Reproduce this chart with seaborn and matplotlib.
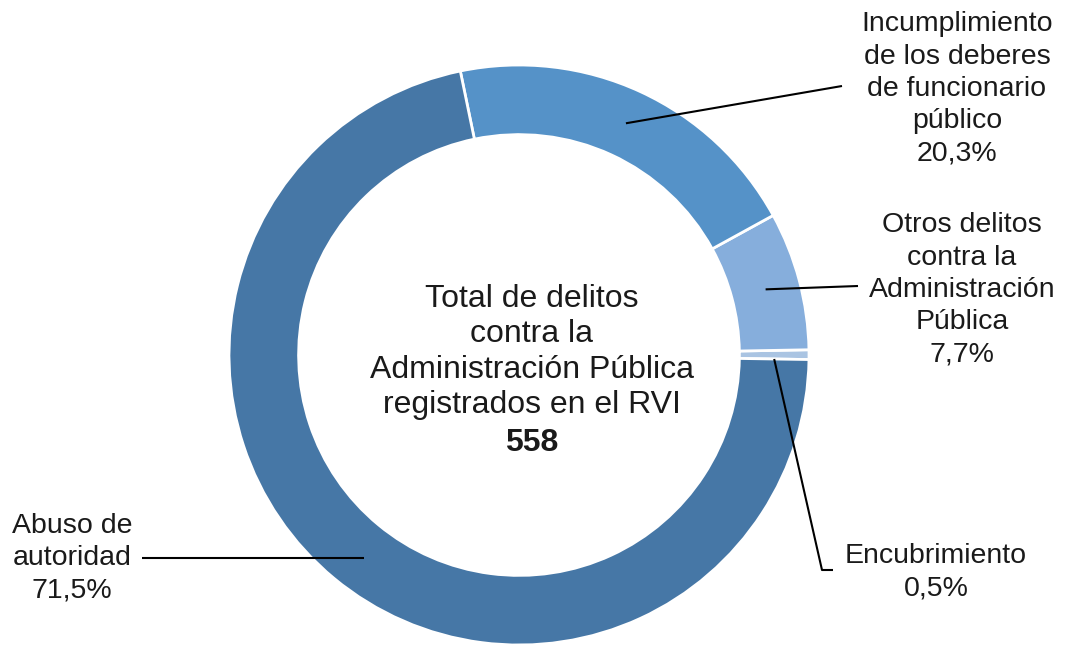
import numpy as np
import matplotlib
matplotlib.use("Agg")
import matplotlib.pyplot as plt
import seaborn as sns

# counterclockwise from the 3 o'clock position
categories = ["Encubrimiento", "Otros delitos contra la Administración Pública",
              "Incumplimiento de los deberes de funcionario público", "Abuso de autoridad"]
label_text = ["Encubrimiento\n0,5%",
              "Otros delitos\ncontra la\nAdministración\nPública\n7,7%",
              "Incumplimiento\nde los deberes\nde funcionario\npúblico\n20,3%",
              "Abuso de\nautoridad\n71,5%"]
counts = [3, 43, 113, 399]
total = 558
colors = ["#AAC4E2", "#86AEDC", "#5592C8", "#4677A6"]

sns.set_theme(style="white")
plt.rcParams["font.family"] = ["Liberation Sans", "DejaVu Sans"]

fig = plt.figure(figsize=(10.67, 6.48), dpi=100)
ax = fig.add_axes([0, 0, 1, 1])
ax.set_axis_off()

start = -0.9
wedges, _ = ax.pie(counts, colors=colors, startangle=start, counterclock=True,
                   radius=1.0, wedgeprops=dict(width=0.24, edgecolor="white", linewidth=2))

# map pixel layout of the original onto data units (radius 1 = 290 px, centre 519,355)
ax.set_xlim(-519 / 290, (1067 - 519) / 290)
ax.set_ylim(-(648 - 355) / 290, 355 / 290)
ax.set_aspect("equal")

def px(x, y):
    return (x - 519) / 290, (355 - y) / 290

# label block centres and leader line ends (layout, in pixels of the original)
label_pos = [px(936, 572), px(962, 290), px(957, 89), px(72, 558)]
line_end = [[px(822, 570), px(833, 570)], [px(858, 286)], [px(842, 86)], [px(142, 558)]]

r = 0.88
angles = start + np.cumsum([0] + counts) / total * 360
for i, w in enumerate(wedges):
    mid = np.deg2rad((angles[i] + angles[i + 1]) / 2)
    if i == 0:
        mid = np.deg2rad(angles[i])
    x0, y0 = r * np.cos(mid), r * np.sin(mid)
    if i == 3:
        # horizontal leader into the middle of the band
        y0 = line_end[i][0][1]
        x0 = -np.sqrt(r ** 2 - y0 ** 2)
    xs = [x0] + [p[0] for p in line_end[i]]
    ys = [y0] + [p[1] for p in line_end[i]]
    ax.plot(xs, ys, color="black", lw=1.5, solid_capstyle="butt", zorder=3)
    ax.text(label_pos[i][0], label_pos[i][1], label_text[i], ha="center", va="center",
            fontsize=20.5, color="#1a1a1a", linespacing=1.32)

cx, cy = px(532, 352)
ax.text(cx, cy, "Total de delitos\ncontra la\nAdministración Pública\nregistrados en el RVI",
        ha="center", va="center", fontsize=23, color="#1a1a1a", linespacing=1.24)
ax.text(*px(532, 443), str(total), ha="center", va="center", fontsize=23,
        fontweight="bold", color="#1a1a1a")

fig.savefig("out.png", dpi=100, facecolor="white")
